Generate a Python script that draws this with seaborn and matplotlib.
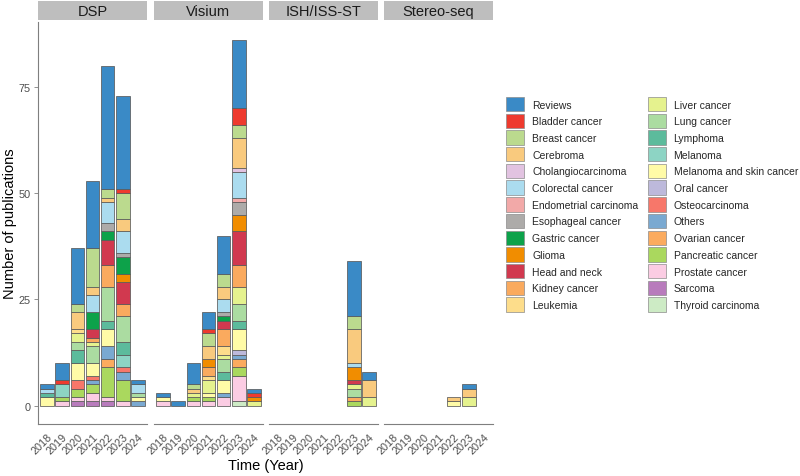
import matplotlib
matplotlib.use("Agg")
import matplotlib.pyplot as plt
import seaborn as sns
import pandas as pd
from matplotlib.patches import Patch

years = [2018, 2019, 2020, 2021, 2022, 2023, 2024]
panels = ["DSP", "Visium", "ISH/ISS-ST", "Stereo-seq"]

categories = ["Reviews", "Bladder cancer", "Breast cancer", "Cerebroma",
              "Cholangiocarcinoma", "Colorectal cancer", "Endometrial carcinoma",
              "Esophageal cancer", "Gastric cancer", "Glioma", "Head and neck",
              "Kidney cancer", "Leukemia", "Liver cancer", "Lung cancer",
              "Lymphoma", "Melanoma", "Melanoma and skin cancer", "Oral cancer",
              "Osteocarcinoma", "Others", "Ovarian cancer", "Pancreatic cancer",
              "Prostate cancer", "Sarcoma", "Thyroid carcinoma"]
colors = ["#3A8AC6", "#EE3A2E", "#BBDA8E", "#F9CA7E", "#E2C3E1", "#ABDCEF",
          "#F2A9A8", "#ADABA9", "#0DA24A", "#F18D00", "#D1394F", "#FAAA5E",
          "#FDDD8B", "#E5F28E", "#ABDCA1", "#5CBB9C", "#8DD4C4", "#FFFBA7",
          "#BDB9DB", "#F7776A", "#7AA9D1", "#FBAB5F", "#AAD85E", "#FBCCE3",
          "#B87BBC", "#CDEBC5"]

dsp = {
    "Reviews": [1, 4, 13, 16, 29, 22, 1],
    "Bladder cancer": [0, 1, 0, 0, 0, 1, 0],
    "Breast cancer": [0, 0, 2, 9, 2, 6, 0],
    "Cerebroma": [0, 0, 4, 2, 1, 3, 0],
    "Colorectal cancer": [1, 0, 0, 4, 5, 5, 2],
    "Esophageal cancer": [0, 0, 0, 0, 2, 1, 0],
    "Gastric cancer": [0, 0, 0, 4, 2, 4, 0],
    "Glioma": [0, 0, 0, 0, 0, 2, 0],
    "Head and neck": [0, 0, 0, 2, 6, 5, 0],
    "Kidney cancer": [0, 0, 0, 1, 5, 3, 0],
    "Leukemia": [0, 0, 1, 0, 0, 0, 0],
    "Liver cancer": [0, 0, 2, 1, 0, 0, 0],
    "Lung cancer": [0, 0, 2, 4, 8, 6, 1],
    "Lymphoma": [1, 0, 3, 0, 2, 3, 0],
    "Melanoma": [0, 3, 0, 0, 0, 3, 0],
    "Melanoma and skin cancer": [2, 0, 4, 3, 4, 0, 1],
    "Osteocarcinoma": [0, 0, 2, 1, 0, 1, 0],
    "Others": [0, 0, 0, 1, 3, 2, 1],
    "Ovarian cancer": [0, 0, 0, 0, 2, 0, 0],
    "Pancreatic cancer": [0, 1, 2, 2, 7, 5, 0],
    "Prostate cancer": [0, 1, 1, 2, 1, 1, 0],
    "Sarcoma": [0, 0, 1, 1, 1, 0, 0],
}

visium = {
    "Reviews": [1, 1, 5, 4, 9, 16, 1],
    "Bladder cancer": [0, 0, 0, 1, 0, 4, 1],
    "Breast cancer": [0, 0, 1, 3, 3, 3, 0],
    "Cerebroma": [0, 0, 1, 3, 3, 7, 0],
    "Cholangiocarcinoma": [0, 0, 0, 0, 0, 1, 0],
    "Colorectal cancer": [0, 0, 0, 0, 3, 6, 0],
    "Endometrial carcinoma": [0, 0, 0, 0, 0, 1, 0],
    "Esophageal cancer": [0, 0, 0, 0, 1, 3, 0],
    "Gastric cancer": [0, 0, 0, 0, 1, 0, 0],
    "Glioma": [0, 0, 0, 2, 0, 4, 1],
    "Head and neck": [0, 0, 0, 0, 2, 8, 0],
    "Kidney cancer": [0, 0, 0, 2, 4, 5, 0],
    "Leukemia": [0, 0, 0, 1, 2, 0, 0],
    "Liver cancer": [0, 0, 1, 3, 1, 4, 1],
    "Lung cancer": [0, 0, 0, 0, 3, 4, 0],
    "Lymphoma": [0, 0, 0, 0, 2, 2, 0],
    "Melanoma and skin cancer": [1, 0, 0, 1, 3, 5, 0],
    "Oral cancer": [0, 0, 0, 0, 0, 1, 0],
    "Others": [0, 0, 0, 0, 1, 1, 0],
    "Ovarian cancer": [0, 0, 0, 0, 0, 2, 0],
    "Pancreatic cancer": [0, 0, 1, 1, 0, 2, 0],
    "Prostate cancer": [1, 0, 1, 1, 2, 6, 0],
    "Thyroid carcinoma": [0, 0, 0, 0, 0, 1, 0],
}

ish = {
    "Reviews": [0, 0, 0, 0, 0, 13, 2],
    "Breast cancer": [0, 0, 0, 0, 0, 3, 0],
    "Cerebroma": [0, 0, 0, 0, 0, 8, 4],
    "Colorectal cancer": [0, 0, 0, 0, 0, 1, 0],
    "Glioma": [0, 0, 0, 0, 0, 3, 0],
    "Head and neck": [0, 0, 0, 0, 0, 1, 0],
    "Liver cancer": [0, 0, 0, 0, 0, 1, 2],
    "Lung cancer": [0, 0, 0, 0, 0, 2, 0],
    "Ovarian cancer": [0, 0, 0, 0, 0, 1, 0],
    "Pancreatic cancer": [0, 0, 0, 0, 0, 1, 0],
}

stereo = {
    "Reviews": [0, 0, 0, 0, 0, 1, 0],
    "Cerebroma": [0, 0, 0, 0, 1, 2, 0],
    "Liver cancer": [0, 0, 0, 0, 0, 2, 0],
    "Melanoma and skin cancer": [0, 0, 0, 0, 1, 0, 0],
}

panel_data = [dsp, visium, ish, stereo]
palette = dict(zip(categories, colors))

sns.set_theme(style="white")
plt.rcParams["font.family"] = ["Liberation Sans", "DejaVu Sans"]

W, H = 800, 477
fig = plt.figure(figsize=(W / 100, H / 100), dpi=100)

panel_left = [38, 154, 269, 384]
panel_w = 109
p_top, p_bot = 23, 425
strip_top, strip_bot = 2, 21
axis_gray = "#7F7F7F"
text_gray = "#4D4D4D"

for i, (name, d) in enumerate(zip(panels, panel_data)):
    rows = []
    for cat, vals in d.items():
        for y, v in zip(years, vals):
            if v > 0:
                rows.append({"year": y, "category": cat, "count": v})
    df = pd.DataFrame(rows)
    ax = fig.add_axes([panel_left[i] / W, 1 - p_bot / H, panel_w / W, (p_bot - p_top) / H])
    order = [c for c in categories if c in set(df["category"])]
    sns.histplot(data=df, x="year", weights="count", hue="category",
                 hue_order=order, palette=palette, multiple="stack",
                 discrete=True, shrink=0.9, alpha=1, edgecolor="#5A5A5A",
                 linewidth=0.55, legend=False, binrange=(2018, 2024), ax=ax)
    for p in list(ax.patches):
        if p.get_height() <= 0:
            p.remove()
    ax.set_xlim(2017.4, 2024.6)
    ax.set_ylim(-4.3, 90.3)
    ax.set_xticks(years)
    ax.set_xticklabels([str(y) for y in years], rotation=45, ha="right",
                       va="top", rotation_mode="anchor", fontsize=7.8, color=text_gray)
    ax.set_xlabel("")
    ax.set_ylabel("")
    for s in ["top", "right"]:
        ax.spines[s].set_visible(False)
    ax.spines["bottom"].set_color(axis_gray)
    ax.spines["bottom"].set_linewidth(0.8)
    ax.tick_params(axis="x", length=3, width=0.6, color=axis_gray, pad=2)
    if i == 0:
        ax.spines["left"].set_color(axis_gray)
        ax.spines["left"].set_linewidth(0.8)
        ax.set_yticks([0, 25, 50, 75])
        ax.set_yticklabels(["0", "25", "50", "75"], fontsize=7.8, color=text_gray)
        ax.tick_params(axis="y", length=3, width=0.6, color=axis_gray, pad=2, left=True)
    else:
        ax.spines["left"].set_visible(False)
        ax.set_yticks([])
    ax.set_facecolor("white")
    # strip
    sax = fig.add_axes([panel_left[i] / W, 1 - strip_bot / H, panel_w / W, (strip_bot - strip_top) / H])
    sax.set_facecolor("#BEBEBE")
    for s in sax.spines.values():
        s.set_visible(False)
    sax.set_xticks([])
    sax.set_yticks([])
    sax.text(0.5, 0.48, name, ha="center", va="center", fontsize=10.5,
             color="#1A1A1A", transform=sax.transAxes)

fig.text((38 + 493) / 2 / W, 1 - 466 / H, "Time (Year)", ha="center", va="center",
         fontsize=10.5, color="black")
fig.text(10 / W, 1 - 224 / H, "Number of publications", ha="center", va="center",
         rotation=90, fontsize=10.5, color="black")

handles = [Patch(facecolor=c, edgecolor="#8C8C8C", linewidth=0.5) for c in colors]
fs = 7.5
fig.legend(handles, categories, loc="upper left",
           bbox_to_anchor=(506 / W, 1 - 98 / H), ncol=2, frameon=False,
           fontsize=fs, handlelength=1.75, handleheight=1.75,
           handletextpad=0.75, labelspacing=0.22, columnspacing=0.9,
           borderpad=0, borderaxespad=0)

fig.savefig("out.png", dpi=100)
